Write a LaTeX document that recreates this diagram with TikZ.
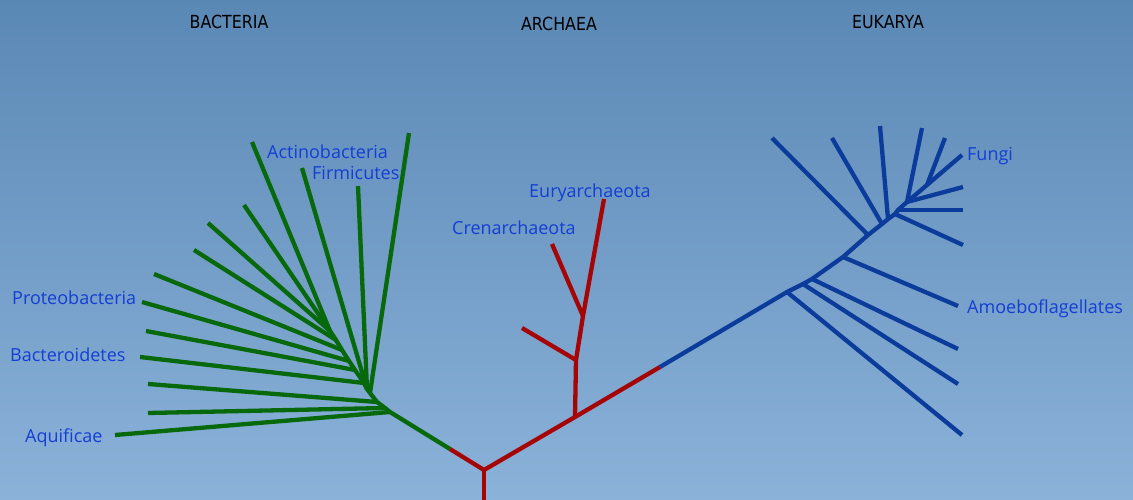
\documentclass[tikz,border=0pt]{standalone}
\usepackage{fontspec}
\setmainfont{Open Sans}
\newfontfamily\hdrfont[FakeStretch=0.88]{DejaVu Sans}
\definecolor{bgtop}{RGB}{90,136,181}
\definecolor{bgbot}{RGB}{139,178,217}
\definecolor{bgreen}{RGB}{8,105,12}
\definecolor{ared}{RGB}{165,5,5}
\definecolor{eblue}{RGB}{12,60,155}
\definecolor{lblue}{RGB}{20,62,212}
\tikzset{
  gbr/.style={draw=bgreen, line width=4.3pt},
  rbr/.style={draw=ared, line width=4.3pt},
  bbr/.style={draw=eblue, line width=4.3pt},
  grp/.style={font=\hdrfont\fontsize{18}{20}\selectfont, text=black, inner sep=0pt},
  lab/.style={font=\fontsize{18}{20}\selectfont, text=lblue, inner sep=0pt, anchor=mid west, yshift=-4pt},
}
\begin{document}
\begin{tikzpicture}[x=1pt,y=-1pt, line join=round]
\shade[top color=bgtop, bottom color=bgbot] (0,0) rectangle (1133,500);
\useasboundingbox (0,0) rectangle (1133,500);

% headers
\node[grp] (hb) at (229,22) {BACTERIA};
\node[grp] (ha) at (559,24) {ARCHAEA};
\node[grp] (he) at (888,22) {EUKARYA};

% ---------- archaea (red) ----------
\coordinate (root) at (484,470);
\coordinate (rootb) at (484,502);
\coordinate (gsplit) at (450,449);
\coordinate (a1) at (575,417);
\coordinate (bsplit) at (660,367);
\coordinate (a2) at (576,360);
\coordinate (a2t) at (522,328);
\coordinate (a3) at (583,316);
\coordinate (cren) at (552,244);
\coordinate (eury) at (604,199);
\draw[rbr] (rootb) -- (root);
\draw[rbr] (gsplit) -- (root) -- (a1) -- (bsplit);
\draw[rbr] (a1) -- (a2) -- (a3) -- (eury);
\draw[rbr] (a2) -- (a2t);
\draw[rbr] (a3) -- (cren);

% ---------- bacteria (green) ----------
\coordinate (j0) at (390,412);
\coordinate (j1) at (385,408);
\coordinate (j2) at (377,402);
\coordinate (j3) at (370,393);
\coordinate (j4) at (367,389);
\coordinate (j5) at (364,383);
\coordinate (j6) at (355,370);
\coordinate (j7) at (349,361);
\coordinate (j8) at (342,350);
\coordinate (j9) at (336,340);
\coordinate (j10) at (330,331);
\draw[gbr] (gsplit) -- (j0) -- (j1) -- (j2) -- (j3) -- (j4) -- (j5) -- (j6) -- (j7) -- (j8) -- (j9) -- (j10);
\coordinate (t1) at (115,435);
\coordinate (t2) at (148,413);
\coordinate (t3) at (148,384);
\coordinate (t4) at (140,357);
\coordinate (t5) at (146,331);
\coordinate (t6) at (142,302);
\coordinate (t7) at (154,274);
\coordinate (t8) at (194,250);
\coordinate (t9) at (208,223);
\coordinate (t10) at (244,205);
\coordinate (t11) at (252,142);
\coordinate (t12) at (302,168);
\coordinate (t13) at (358,186);
\coordinate (t14) at (409,133);
\draw[gbr] (j0) -- (t1);
\draw[gbr] (j1) -- (t2);
\draw[gbr] (j2) -- (t3);
\draw[gbr] (j5) -- (t4);
\draw[gbr] (j6) -- (t5);
\draw[gbr] (j7) -- (t6);
\draw[gbr] (j8) -- (t7);
\draw[gbr] (j9) -- (t8);
\draw[gbr] (j10) -- (t9);
\draw[gbr] (j10) -- (t10);
\draw[gbr] (j10) -- (t11);
\draw[gbr] (j4) -- (t12);
\draw[gbr] (j4) -- (t13);
\draw[gbr] (j3) -- (t14);

% ---------- eukarya (blue) ----------
\coordinate (k1) at (787,292);
\coordinate (k2) at (803,284);
\coordinate (k3) at (812,279);
\coordinate (k4) at (843,257);
\coordinate (k5) at (868,235);
\coordinate (k6) at (882,224);
\coordinate (k7) at (888,219);
\coordinate (k8) at (895,214);
\coordinate (k9) at (898,210);
\coordinate (k10) at (907,202);
\coordinate (k11) at (927,185);
\draw[bbr] (bsplit) -- (k1) -- (k2) -- (k3) -- (k4) -- (k5) -- (k6) -- (k7) -- (k8) -- (k9) -- (k10) -- (k11);
\coordinate (e1) at (962,435);
\coordinate (e2) at (958,384);
\coordinate (e3) at (958,349);
\coordinate (e4) at (958,306);
\coordinate (e5) at (772,138);
\coordinate (e6) at (832,138);
\coordinate (e7) at (880,126);
\coordinate (e8) at (963,245);
\coordinate (e9) at (963,210);
\coordinate (e10) at (963,187);
\coordinate (e11) at (922,128);
\coordinate (e12) at (945,138);
\coordinate (e13) at (962,155);
\draw[bbr] (k1) -- (e1);
\draw[bbr] (k2) -- (e2);
\draw[bbr] (k3) -- (e3);
\draw[bbr] (k4) -- (e4);
\draw[bbr] (k5) -- (e5);
\draw[bbr] (k6) -- (e6);
\draw[bbr] (k7) -- (e7);
\draw[bbr] (k8) -- (e8);
\draw[bbr] (k9) -- (e9);
\draw[bbr] (k10) -- (e10);
\draw[bbr] (k10) -- (e11);
\draw[bbr] (k11) -- (e12);
\draw[bbr] (k11) -- (e13);

% ---------- labels ----------
\node[lab] (lact) at (267,152) {Actinobacteria};
\node[lab] (lfir) at (312,173) {Firmicutes};
\node[lab] (lpro) at (12,298) {Proteobacteria};
\node[lab] (lbac) at (10,355) {Bacteroidetes};
\node[lab] (laqu) at (25,436) {Aquificae};
\node[lab] (leur) at (529,191) {Euryarchaeota};
\node[lab] (lcre) at (452,228) {Crenarchaeota};
\node[lab] (lfun) at (967,154) {Fungi};
\node[lab] (lamo) at (967,307) {Amoeboflagellates};
\end{tikzpicture}
\end{document}
